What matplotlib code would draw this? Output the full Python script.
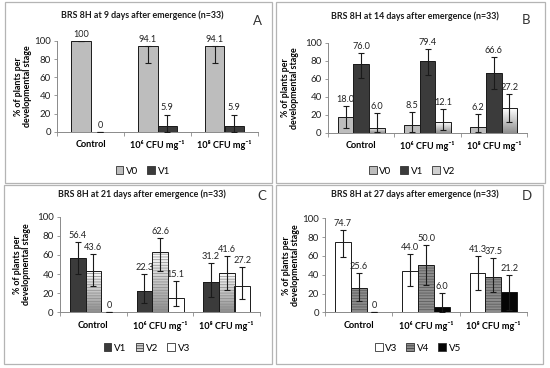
import numpy as np
import matplotlib
matplotlib.use("Agg")
import matplotlib.pyplot as plt
from matplotlib.colors import LinearSegmentedColormap
from matplotlib.patches import Patch, Rectangle

plt.rcParams["font.family"] = ["Lato", "DejaVu Sans"]
plt.rcParams["hatch.linewidth"] = 0.5

# ---------------------------------------------------------
# Data (mean % of plants per stage, lower / upper error)
# ---------------------------------------------------------
categories = ["Control", "10⁶ CFU mg⁻¹", "10⁸ CFU mg⁻¹"]

a_v0 = [100, 94.1, 94.1]
a_v0_lo = [0, 18.5, 18.5]
a_v0_hi = [0, 0, 0]
a_v1 = [0, 5.9, 5.9]
a_v1_lo = [0, 5.9, 5.9]
a_v1_hi = [0, 13.0, 13.0]

b_v0 = [18.0, 8.5, 6.2]
b_v0_lo = [12.5, 7.0, 5.2]
b_v0_hi = [12.3, 14.5, 14.8]
b_v1 = [76.0, 79.4, 66.6]
b_v1_lo = [15.0, 14.8, 17.6]
b_v1_hi = [12.9, 13.2, 17.2]
b_v2 = [6.0, 12.1, 27.2]
b_v2_lo = [5.0, 8.4, 15.2]
b_v2_hi = [16.0, 14.1, 16.3]

c_v1 = [56.4, 22.3, 31.2]
c_v1_lo = [16.7, 12.2, 14.8]
c_v1_hi = [16.8, 17.4, 20.0]
c_v2 = [43.6, 62.6, 41.6]
c_v2_lo = [16.1, 19.0, 17.9]
c_v2_hi = [17.0, 14.8, 17.6]
c_v3 = [0, 15.1, 27.2]
c_v3_lo = [0, 8.5, 12.9]
c_v3_hi = [0, 17.7, 20.5]

d_v3 = [74.7, 44.0, 41.3]
d_v3_lo = [16.2, 16.0, 17.2]
d_v3_hi = [12.5, 18.4, 18.3]
d_v4 = [25.6, 50.0, 37.5]
d_v4_lo = [13.9, 21.3, 16.2]
d_v4_hi = [16.2, 22.0, 19.9]
d_v5 = [0, 6.0, 21.2]
d_v5_lo = [0, 6.0, 18.4]
d_v5_hi = [0, 14.2, 18.8]

titles = [
    "BRS 8H at 9 days after emergence (n=33)",
    "BRS 8H at 14 days after emergence (n=33)",
    "BRS 8H at 21 days after emergence (n=33)",
    "BRS 8H at 27 days after emergence (n=33)",
]
letters = ["A", "B", "C", "D"]

# bar styles: (flat colour, gradient (top, bottom), hatch, hatch colour)
FLAT_LIGHT = ("#bdbdbd", None, None, None)
FLAT_DARK = ("#3b3b3b", None, None, None)
FADE = ("#d0d0d0", ("#ffffff", "#8f8f8f"), None, None)
FADE_LINES = ("#d0d0d0", ("#ffffff", "#8f8f8f"), "------", "#8a8a8a")
WHITE = ("#ffffff", None, None, None)
GREY_LINES = ("#8c8c8c", None, "------", "#555555")
BLACK = ("#050505", None, None, None)

panels = [
    dict(series=[("V0", a_v0, a_v0_lo, a_v0_hi, FLAT_LIGHT),
                 ("V1", a_v1, a_v1_lo, a_v1_hi, FLAT_DARK)],
         width=0.285, box=(5, 2, 272, 183), axes=(57, 258, 41, 131.7),
         title_xy=(142, 15), letter_xy=(257, 21), ylab_x=23, leg_xy=(143, 171)),
    dict(series=[("V0", b_v0, b_v0_lo, b_v0_hi, FLAT_LIGHT),
                 ("V1", b_v1, b_v1_lo, b_v1_hi, FLAT_DARK),
                 ("V2", b_v2, b_v2_lo, b_v2_hi, FADE)],
         width=0.235, box=(276, 2, 545, 183), axes=(328, 527, 42.7, 133),
         title_xy=(415, 16), letter_xy=(526, 20), ylab_x=290, leg_xy=(412, 171)),
    dict(series=[("V1", c_v1, c_v1_lo, c_v1_hi, FLAT_DARK),
                 ("V2", c_v2, c_v2_lo, c_v2_hi, FADE_LINES),
                 ("V3", c_v3, c_v3_lo, c_v3_hi, WHITE)],
         width=0.235, box=(4, 185, 272, 364), axes=(60, 260, 216.7, 312.3),
         title_xy=(142, 194), letter_xy=(262, 196), ylab_x=22, leg_xy=(147, 348)),
    dict(series=[("V3", d_v3, d_v3_lo, d_v3_hi, WHITE),
                 ("V4", d_v4, d_v4_lo, d_v4_hi, GREY_LINES),
                 ("V5", d_v5, d_v5_lo, d_v5_hi, BLACK)],
         width=0.235, box=(276, 185, 543, 364), axes=(325, 527, 218.3, 312.3),
         title_xy=(415, 194), letter_xy=(527, 196), ylab_x=291, leg_xy=(418, 348)),
]

W, H = 550, 368
fig = plt.figure(figsize=(W / 100, H / 100), dpi=100)


def fx(x):
    return x / W


def fy(y):
    return 1 - y / H


def draw_bars(ax, xs, vals, style, w):
    face, grad, hatch, hcol = style
    if grad is None:
        bars = ax.bar(xs, vals, w, color=face, edgecolor="none", zorder=2)
    else:
        bars = ax.bar(xs, vals, w, color="none", edgecolor="none", zorder=2)
        cmap = LinearSegmentedColormap.from_list("fade", [grad[1], grad[0]])
        g = np.linspace(0, 1, 64).reshape(-1, 1)
        for b in bars:
            x0, y0 = b.get_xy()
            if b.get_height() <= 0:
                continue
            im = ax.imshow(g, cmap=cmap, origin="lower", aspect="auto", zorder=1,
                           extent=[x0, x0 + b.get_width(), y0, y0 + b.get_height()])
            im.set_clip_path(b)
    if hatch:
        ax.bar(xs, vals, w, color="none", edgecolor=hcol, hatch=hatch, lw=0, zorder=3)
    ax.bar(xs, vals, w, color="none", edgecolor="#1a1a1a", lw=0.7, zorder=4)


for i, p in enumerate(panels):
    x0, x1, yt, yb = p["axes"]
    ax = fig.add_axes([fx(x0), fy(yb), fx(x1 - x0), (yb - yt) / H])
    n = len(p["series"])
    w = p["width"]
    base = np.arange(len(categories))
    handles = []
    for j, (name, vals, lo, hi, style) in enumerate(p["series"]):
        xs = base + (j - (n - 1) / 2) * w
        draw_bars(ax, xs, vals, style, w)
        ax.errorbar(xs, vals, yerr=[lo, hi], fmt="none", ecolor="#1a1a1a",
                    elinewidth=0.8, capsize=2.2, capthick=0.8, zorder=5)
        for x, v, h in zip(xs, vals, hi):
            lab = "0" if v == 0 else (f"{v:.0f}" if v == 100 else f"{v:.1f}")
            ax.annotate(lab, (x, v + h), xytext=(0, 1.5), textcoords="offset points",
                        ha="center", va="bottom", fontsize=6.6, color="#222222")
        face, grad, hatch, hcol = style
        handles.append(Patch(facecolor=face, edgecolor="#333333", lw=0.6,
                             hatch=hatch, label=name))

    ax.set_xlim(-0.5, 2.5)
    ax.set_ylim(0, 100)
    ax.set_yticks([0, 20, 40, 60, 80, 100])
    ax.set_xticks([-0.5, 0.5, 1.5, 2.5])
    ax.set_xticklabels([])
    ax.set_xticks(base, minor=True)
    ax.set_xticklabels(categories, minor=True, fontsize=6.6, fontweight="bold")
    ax.tick_params(axis="x", which="major", length=3, color="#8a8a8a", width=0.6)
    ax.tick_params(axis="x", which="minor", length=0, pad=6)
    ax.tick_params(axis="y", length=2.5, color="#8a8a8a", width=0.6, labelsize=7,
                   pad=2, labelcolor="#222222")
    for s in ("top", "right"):
        ax.spines[s].set_visible(False)
    for s in ("left", "bottom"):
        ax.spines[s].set_color("#8a8a8a")
        ax.spines[s].set_linewidth(0.7)
    ax.patch.set_alpha(0)

    ax.set_ylabel("% of plants per\ndevelopmental stage", fontsize=6.4, fontweight="bold",
                  linespacing=1.05)
    ax.yaxis.set_label_coords((p["ylab_x"] + 9 - x0) / (x1 - x0), 0.5)

    bx0, by0, bx1, by1 = p["box"]
    fig.patches.append(Rectangle((fx(bx0), fy(by1)), fx(bx1 - bx0), (by1 - by0) / H,
                                 transform=fig.transFigure, fill=False,
                                 edgecolor="#b4b4b4", lw=0.9))

    tx, ty = p["title_xy"]
    fig.text(fx(tx), fy(ty), titles[i], ha="center", va="center",
             fontsize=6.4, fontweight="bold", color="#1a1a1a")
    lx, ly = p["letter_xy"]
    fig.text(fx(lx), fy(ly), letters[i], ha="center", va="center",
             fontsize=9.5, color="#333333")
    gx, gy = p["leg_xy"]
    fig.legend(handles=handles, loc="center", bbox_to_anchor=(fx(gx), fy(gy)),
               ncol=n, frameon=False, fontsize=7, handlelength=0.8,
               handleheight=0.8, handletextpad=0.3, columnspacing=0.9)

fig.savefig("out.png", dpi=100)
